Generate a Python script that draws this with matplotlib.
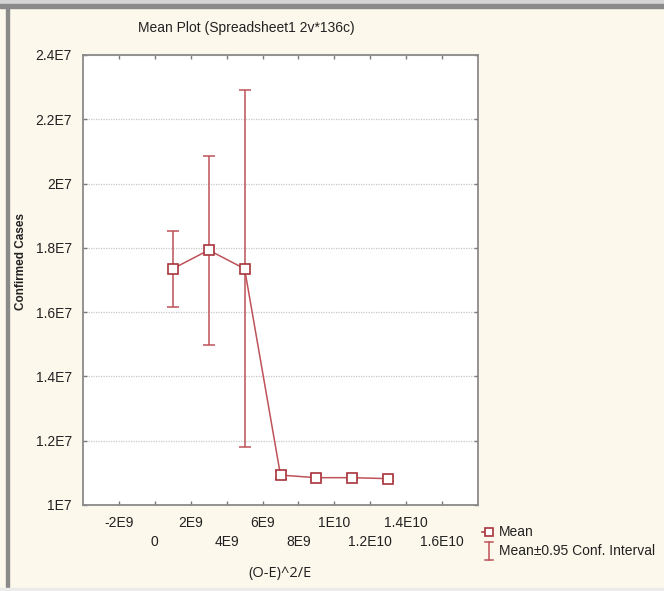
import numpy as np
import matplotlib
matplotlib.use("Agg")
import matplotlib.pyplot as plt
from matplotlib.lines import Line2D
from matplotlib.patches import Rectangle

# data
x_vals = [1e9, 3e9, 5e9, 7e9, 9e9, 1.1e10, 1.3e10]
means = [1.735e7, 1.793e7, 1.735e7, 1.093e7, 1.085e7, 1.085e7, 1.082e7]
ci_low = [1.615e7, 1.498e7, 1.180e7, 1.080e7, 1.078e7, 1.078e7, 1.075e7]
ci_high = [1.853e7, 2.086e7, 2.291e7, 1.106e7, 1.092e7, 1.092e7, 1.089e7]

# x labels alternate between two rows
x_ticks_row1 = [-2e9, 2e9, 6e9, 1e10, 1.4e10]
x_labels_row1 = ["-2E9", "2E9", "6E9", "1E10", "1.4E10"]
x_ticks_row2 = [0, 4e9, 8e9, 1.2e10, 1.6e10]
x_labels_row2 = ["0", "4E9", "8E9", "1.2E10", "1.6E10"]
y_ticks = [1e7, 1.2e7, 1.4e7, 1.6e7, 1.8e7, 2e7, 2.2e7, 2.4e7]
y_ticklabels = ["1E7", "1.2E7", "1.4E7", "1.6E7", "1.8E7", "2E7", "2.2E7", "2.4E7"]

plt.rcParams['font.family'] = ['Liberation Sans', 'DejaVu Sans']

W, H = 664, 591
fig = plt.figure(figsize=(W / 100, H / 100), dpi=100)
fig.patch.set_facecolor("#FDF8EC")

# window frame bits
fig.add_artist(Rectangle((0, 1 - 4 / H), 1, 4 / H, transform=fig.transFigure, color="#D4D4D4", zorder=0))
fig.add_artist(Rectangle((0, 1 - 8 / H), 1, 4 / H, transform=fig.transFigure, color="#8A8A8A", zorder=0))
fig.add_artist(Rectangle((6 / W, 3 / H), 2.5 / W, 1 - 11 / H, transform=fig.transFigure, color="#8A8A8A", zorder=0))
fig.add_artist(Rectangle((0, 0), 1, 3 / H, transform=fig.transFigure, color="#ECECEC", zorder=0))

ax = fig.add_axes([83 / W, (H - 505) / H, (478 - 83) / W, (505 - 55) / H])
ax.set_facecolor("white")

red = "#A8343C"
line_red = "#BE5258"
yerr = [np.array(means) - np.array(ci_low), np.array(ci_high) - np.array(means)]
ax.errorbar(x_vals, means, yerr=yerr, fmt='none', ecolor=line_red, elinewidth=1.1,
            capsize=4, capthick=1.1, zorder=3)
ax.plot(x_vals, means, color=line_red, linewidth=1.1, zorder=4)
ax.plot(x_vals, means, linestyle='none', marker='s', markersize=7, markerfacecolor='white',
        markeredgecolor=red, markeredgewidth=1.2, zorder=5)

ax.set_xlim(-4e9, 1.8e10)
ax.set_ylim(1e7, 2.4e7)
ax.set_yticks(y_ticks)
ax.set_yticklabels(y_ticklabels)
ax.set_xticks(x_ticks_row1)
ax.set_xticklabels(x_labels_row1)
ax.set_xticks(x_ticks_row2, minor=True)
ax.set_xticklabels(x_labels_row2, minor=True)
ax.tick_params(which='both', direction='in', length=3, width=1, color="#7A7A7A", top=True, right=True,
               labelsize=10, labelcolor="#222222")
ax.tick_params(axis='x', which='major', pad=8)
ax.tick_params(axis='x', which='minor', pad=21.5)
ax.tick_params(axis='y', pad=8)
ax.yaxis.grid(True, color="#C8C8C8", linestyle=(0, (1, 1)), linewidth=0.9)
for s in ax.spines.values():
    s.set_color("#8A8A8A")
    s.set_linewidth(1.3)

fig.text(246 / W, 1 - 28 / H, "Mean Plot (Spreadsheet1 2v*136c)", ha='center', va='center',
         fontsize=10, color="#222222")
fig.text(21 / W, 1 - 261 / H, "Confirmed Cases", rotation=90, ha='center', va='center',
         fontsize=8.5, fontweight='bold', color="#222222")
fig.text(280 / W, 1 - 573 / H, "(O-E)^2/E", ha='center', va='center',
         fontsize=10.5, family=['Open Sans', 'DejaVu Sans'], color="#222222")

# legend
fig.add_artist(Line2D([489 / W], [1 - 532 / H], transform=fig.transFigure, marker='s',
                      markersize=6, markerfacecolor='white', markeredgecolor=red,
                      markeredgewidth=1.2, linestyle='none'))
fig.add_artist(Line2D([482 / W, 484 / W], [1 - 532 / H, 1 - 532 / H], transform=fig.transFigure,
                      color=red, linewidth=1.1))
fig.text(499 / W, 1 - 532 / H, "Mean", ha='left', va='center', fontsize=10, color="#222222")
bx = 489 / W
fig.add_artist(Line2D([bx, bx], [1 - 542 / H, 1 - 560 / H], transform=fig.transFigure,
                      color=line_red, linewidth=1.1))
fig.add_artist(Line2D([bx - 4 / W, bx + 4 / W], [1 - 542 / H, 1 - 542 / H], transform=fig.transFigure,
                      color=line_red, linewidth=1.1))
fig.add_artist(Line2D([bx - 4 / W, bx + 4 / W], [1 - 560 / H, 1 - 560 / H], transform=fig.transFigure,
                      color=line_red, linewidth=1.1))
fig.text(499 / W, 1 - 551 / H, "Mean\u00b10.95 Conf. Interval", ha='left', va='center',
         fontsize=10, color="#222222")

fig.savefig("out.png", dpi=100, facecolor=fig.get_facecolor())
